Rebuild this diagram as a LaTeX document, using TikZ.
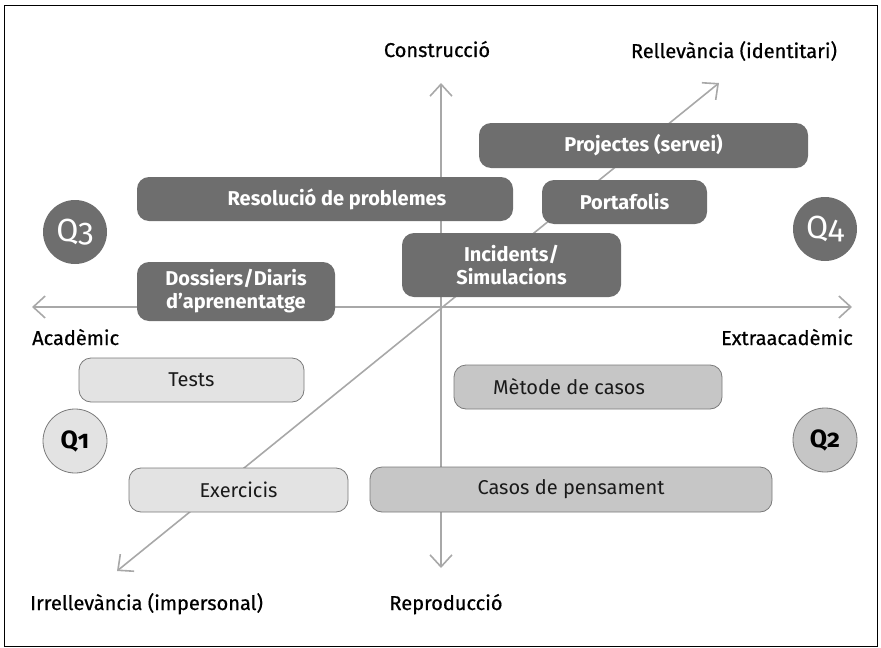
\documentclass[tikz,border=0pt]{standalone}
\usepackage{fontspec}
\setmainfont{Fira Sans}
\newfontfamily\qfont{Fira Sans}[Numbers=OldStyle]
\newfontfamily\labfont{Fira Sans}[FakeBold=0.6]
\usetikzlibrary{arrows.meta}
\definecolor{boxdark}{HTML}{6E6E6E}
\definecolor{boxlight}{HTML}{E3E3E3}
\definecolor{boxmed}{HTML}{C6C6C6}
\definecolor{boxline}{HTML}{7A7A7A}
\definecolor{axisgray}{HTML}{A8A8A8}
\definecolor{textdark}{HTML}{1A1A1A}
\begin{document}
\begin{tikzpicture}[x=1pt,y=-1pt,
  axis/.style={draw=axisgray, line width=1.6pt, {Straight Barb[length=12pt,width=22pt,line width=1.6pt]}-{Straight Barb[length=12pt,width=22pt,line width=1.6pt]}},
  darkbox/.style={rounded corners=12pt, fill=boxdark, text=white, font=\bfseries\fontsize{20}{23}\selectfont, minimum height=44pt, inner sep=0pt, align=center},
  lightbox/.style={rounded corners=12pt, fill=boxlight, draw=boxline, line width=0.8pt, text=textdark, font=\fontsize{20}{23}\selectfont, minimum height=44pt, inner sep=0pt},
  medbox/.style={lightbox, fill=boxmed},
  qdark/.style={circle, fill=boxdark, text=white, minimum size=64pt, inner sep=0pt, font=\qfont\fontsize{32}{34}\selectfont},
  qlight/.style={circle, fill=boxlight, draw=boxline, line width=0.8pt, text=black, minimum size=64pt, inner sep=0pt, font=\qfont\bfseries\fontsize{25}{28}\selectfont},
  axlabel/.style={text=black, font=\labfont\fontsize{20}{23}\selectfont, inner sep=0pt}
]
\useasboundingbox (0,0) rectangle (881,648);
\draw[black, line width=1.4pt] (4.5,5.5) rectangle (877.5,646.5);

% axes
\coordinate (vtop) at (441,83);
\coordinate (vbot) at (441,568);
\coordinate (hl) at (32,307);
\coordinate (hr) at (852,307);
\coordinate (dl) at (117,571);
\coordinate (dr) at (719,83);
\draw[axis] (vbot) -- (vtop);
\draw[axis] (hl) -- (hr);
\draw[axis] (dl) -- (dr);

% axis labels
\node[axlabel, anchor=base] (constr) at (437,57) {Construcció};
\node[axlabel, anchor=base] (rell) at (734,58) {Rellevància (identitari)};
\node[axlabel, anchor=base west] (acad) at (32,345) {Acadèmic};
\node[axlabel, anchor=base east] (extra) at (853,345) {Extraacadèmic};
\node[axlabel, anchor=base west] (irrell) at (30,610) {Irrellevància (impersonal)};
\node[axlabel, anchor=base] (repro) at (446,610) {Reproducció};

% dark boxes
\node[darkbox, minimum width=329pt, minimum height=45pt] (proj) at (643.5,145.5) {Projectes (servei)};
\node[darkbox, minimum width=376pt] (resol) at (325,199) {\hspace*{24pt}Resolució de problemes};
\node[darkbox, minimum width=165pt] (porta) at (624.5,202) {Portafolis};
\node[darkbox, minimum width=219pt, minimum height=64pt] (incid) at (511.5,265) {Incidents/\\Simulacions};
\node[darkbox, minimum width=198pt, minimum height=59pt] (doss) at (236,291.5) {Dossiers/Diaris\\d’aprenentatge};

% light / medium boxes
\node[lightbox, minimum width=225pt] (tests) at (191.5,380) {Tests};
\node[medbox, minimum width=268pt] (metode) at (588,387) {\hspace*{-38pt}Mètode de casos};
\node[lightbox, minimum width=219pt] (exerc) at (238.5,490) {Exercicis};
\node[medbox, minimum width=402pt, minimum height=45pt] (casos) at (571,489.5) {Casos de pensament};

% quadrant markers
\node[qdark] (q3) at (75,232) {Q3};
\node[qdark] (q4) at (825,229) {Q4};
\node[qlight] (q1) at (75,441) {Q1};
\node[qlight, fill=boxmed] (q2) at (825,440) {Q2};
\end{tikzpicture}
\end{document}
